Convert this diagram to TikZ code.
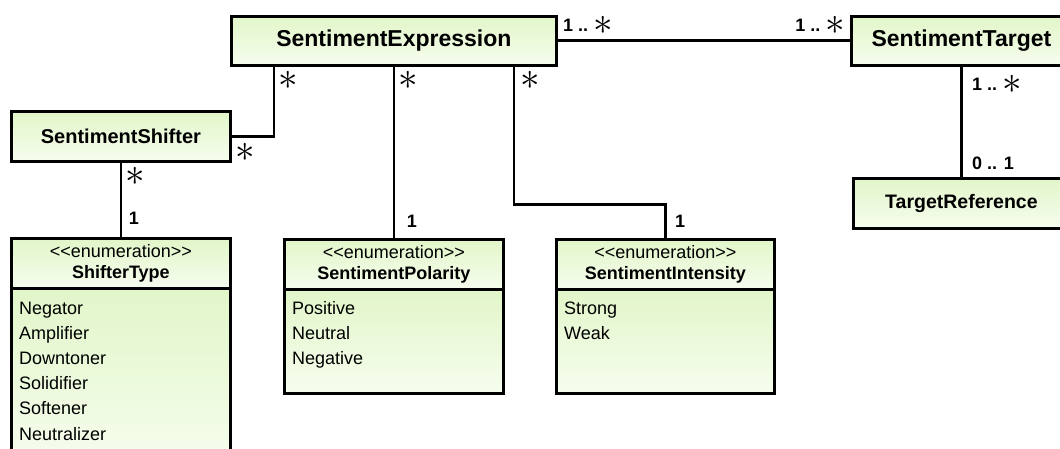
\documentclass[tikz,border=0pt]{standalone}
\usepackage{fontspec}
\usepackage{graphicx}
\setmainfont{Liberation Sans}[Ligatures=TeXOff]
\usetikzlibrary{calc}
\definecolor{umltop}{HTML}{E2F6C9}
\definecolor{umlbot}{HTML}{F6FDEE}
% thin six-armed multiplicity star
\newcommand{\many}{{\fontsize{10}{12}\selectfont\raisebox{-3pt}{\scalebox{3.9}{$\ast$}}}}
\begin{document}
\begin{tikzpicture}[x=1pt,y=-1pt,
  umlbox/.style={draw=black, line width=2.8pt, top color=umltop, bottom color=umlbot,
    inner sep=0pt, anchor=north west},
  classname/.style={umlbox, font=\fontsize{20}{24}\selectfont\bfseries},
  enumhead/.style={umlbox, align=center, font=\fontsize{18}{21}\selectfont},
  enumitem/.style={anchor=base west, inner sep=0pt, font=\fontsize{18}{21}\selectfont},
  assoc/.style={line width=2.8pt},
  mult/.style={inner sep=0pt, font=\fontsize{18}{21}\selectfont\bfseries},
  starlbl/.style={inner sep=0pt}
]
\useasboundingbox (0,0) rectangle (1060,449);
\clip (0,0) rectangle (1060,449);

% classes
\node[classname, minimum width=325pt, minimum height=49pt,
      font=\fontsize{23}{27}\selectfont\bfseries] (expr) at (230,15) {SentimentExpression};
\node[classname, minimum width=220pt, minimum height=49pt,
      font=\fontsize{23}{27}\selectfont\bfseries] (target) at (850,15) {SentimentTarget};
\node[classname, minimum width=216pt, minimum height=50pt,
      font=\fontsize{19.5}{23}\selectfont\bfseries] (tref) at (852,177) {TargetReference};
\node[classname, minimum width=219pt, minimum height=50pt] (shifter) at (10,110) {SentimentShifter};

% enumerations: header compartment and literal compartment
\node[enumhead, minimum width=219pt, minimum height=50pt] (stypeh) at (10,237)
  {<<enumeration>>\\\textbf{ShifterType}};
\node[umlbox, minimum width=219pt, minimum height=180pt] (stype) at (10,287) {};
\node[enumhead, minimum width=219pt, minimum height=50pt] (polh) at (283,238)
  {<<enumeration>>\\\textbf{SentimentPolarity}};
\node[umlbox, minimum width=219pt, minimum height=104pt] (pol) at (283,288) {};
\node[enumhead, minimum width=218pt, minimum height=50pt] (inth) at (555,238)
  {<<enumeration>>\\\textbf{SentimentIntensity}};
\node[umlbox, minimum width=218pt, minimum height=104pt] (int) at (555,288) {};

% enumeration literals
\foreach \t [count=\i from 0] in {Negator,Amplifier,Downtoner,Solidifier,Softener,Neutralizer}
  \node[enumitem] (st\i) at (19,314+25.2*\i) {\t};
\foreach \t [count=\i from 0] in {Positive,Neutral,Negative}
  \node[enumitem] (po\i) at (292,314+25*\i) {\t};
\foreach \t [count=\i from 0] in {Strong,Weak}
  \node[enumitem] (in\i) at (564,314+25*\i) {\t};

% associations
\draw[assoc] (shifter.east) -| ([xshift=44pt]expr.south west);
\draw[assoc] (polh.north) -- (polh.north |- expr.south);
\draw[assoc] ([xshift=284pt]expr.south west) -- ++(0,138) -| (inth.north);
\draw[assoc] (shifter.south) -- (stypeh.north);
\draw[assoc] (expr.east) -- (target.west);
\draw[assoc] (target.south) -- (tref.north);

% multiplicities
\node[starlbl] (m1) at (288,80) {\many};
\node[starlbl] (m2) at (408,80) {\many};
\node[starlbl] (m3) at (530,80) {\many};
\node[starlbl] (m4) at (245,152) {\many};
\node[starlbl] (m5) at (135,176) {\many};
\node[mult] (m6) at (134,218) {1};
\node[mult] (m7) at (412,221) {1};
\node[mult] (m8) at (680,221) {1};
\node[mult, anchor=west] (m9) at (563,25) {1 ..\ \many};
\node[mult, anchor=east] (m10) at (845,25) {1 ..\ \many};
\node[mult, anchor=west] (m11) at (972,84) {1 ..\ \many};
\node[mult, anchor=west] (m12) at (972,163) {0 .. 1};
\end{tikzpicture}
\end{document}
